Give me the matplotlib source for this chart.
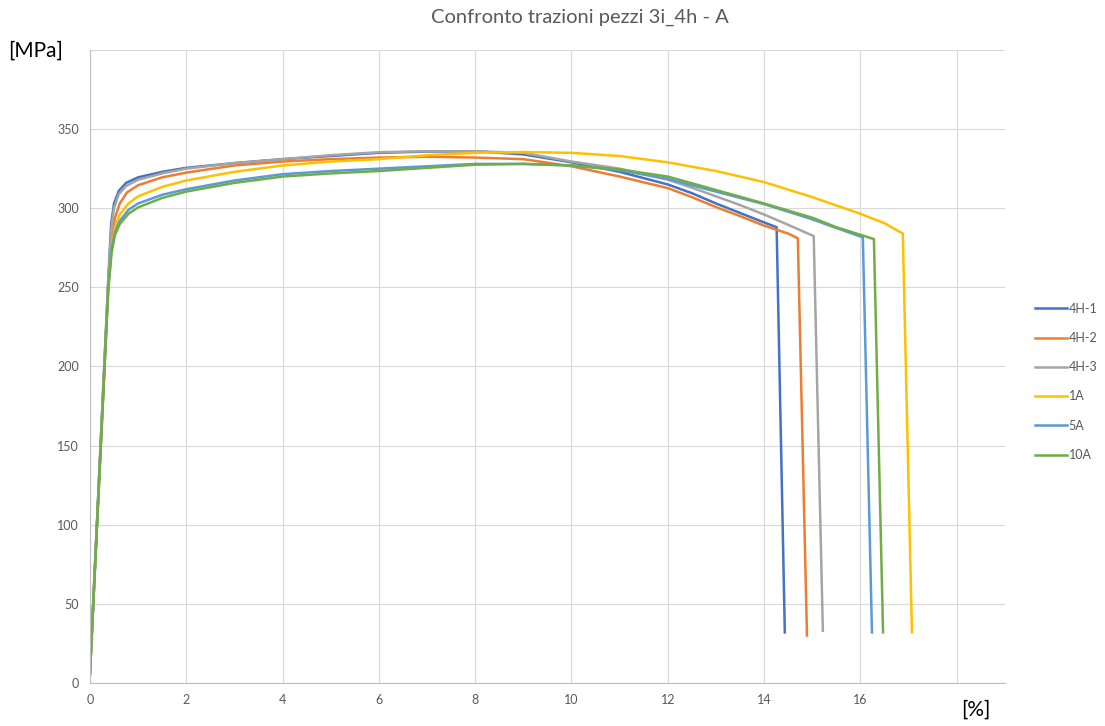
import matplotlib
matplotlib.use("Agg")
from matplotlib import pyplot as plt

plt.rcParams['font.family'] = ['Lato', 'DejaVu Sans']

# curve data: strain [%] vs stress [MPa]
x_4h1 = [0, 0.38, 0.44, 0.5, 0.6, 0.75, 1.0, 1.5, 2, 3, 4, 5, 6, 7, 8, 9, 10, 11, 12, 12.5, 13, 13.5, 14, 14.26, 14.43]
y_4h1 = [6, 255, 290, 303, 311, 316, 319.5, 323, 325.5, 328.5, 331, 333, 335, 335.8, 336, 334, 329, 323, 315, 309.5, 303, 297, 291, 288, 32]

x_4h2 = [0, 0.38, 0.45, 0.52, 0.62, 0.77, 1.0, 1.5, 2, 3, 4, 5, 6, 7, 8, 9, 10, 11, 12, 12.5, 13, 13.5, 14, 14.5, 14.7, 14.89]
y_4h2 = [6, 252, 280, 294, 303, 310, 314.5, 319.5, 322.5, 327, 329.5, 331, 332, 332.5, 332, 331, 326.5, 320, 312.7, 307, 300.7, 295, 289, 284, 281, 30]

x_4h3 = [0, 0.38, 0.44, 0.5, 0.6, 0.75, 1.0, 1.5, 2, 3, 4, 5, 6, 7, 8, 9, 10, 11, 12, 12.5, 13, 13.5, 14, 14.5, 15.03, 15.22]
y_4h3 = [6, 252, 286, 300, 309, 314, 318, 322, 325, 328.5, 331, 333.5, 335.4, 336, 336, 335, 329.5, 325, 318, 313, 307.5, 302, 296, 289.5, 282.4, 33]

x_1a = [0, 0.38, 0.45, 0.52, 0.62, 0.8, 1.0, 1.5, 2, 3, 4, 5, 6, 7, 8, 9, 10, 11, 12, 13, 14, 15, 16, 16.5, 16.88, 17.07]
y_1a = [6, 250, 276, 288, 296, 303, 307.5, 313.5, 317.5, 323, 327, 329.5, 331, 333.5, 335, 335.5, 335, 333, 329, 323.5, 316.5, 307, 296.5, 290.5, 284, 32]

x_5a = [0, 0.38, 0.45, 0.52, 0.62, 0.8, 1.0, 1.5, 2, 3, 4, 5, 6, 7, 8, 9, 10, 11, 12, 13, 14, 15, 15.5, 16.05, 16.24]
y_5a = [6, 250, 275, 285, 292, 299, 303, 308.5, 312, 317.5, 321.5, 323.5, 325, 326.5, 328, 328, 327, 324, 318.5, 310.5, 302.6, 293, 287.5, 281.6, 32]

x_10a = [0, 0.38, 0.45, 0.52, 0.62, 0.8, 1.0, 1.5, 2, 3, 4, 5, 6, 7, 8, 9, 10, 11, 12, 13, 14, 15, 15.5, 16.28, 16.47]
y_10a = [6, 248, 272, 283, 290, 296.5, 300.5, 306.5, 310.5, 316, 320, 322, 323.5, 325.5, 327.5, 328, 327, 324.5, 320, 311.5, 303, 294, 288, 280.5, 32]

labels = ["4H-1", "4H-2", "4H-3", "1A", "5A", "10A"]
colors = ["#4472C4", "#ED7D31", "#A5A5A5", "#FFC000", "#5B9BD5", "#70AD47"]
series = [(x_4h1, y_4h1), (x_4h2, y_4h2), (x_4h3, y_4h3),
          (x_1a, y_1a), (x_5a, y_5a), (x_10a, y_10a)]

x_ticks = [0, 2, 4, 6, 8, 10, 12, 14, 16, 18]
x_ticklabels = ["0", "2", "4", "6", "8", "10", "12", "14", "16", ""]
y_ticks = [0, 50, 100, 150, 200, 250, 300, 350, 400]
y_ticklabels = ["0", "50", "100", "150", "200", "250", "300", "350", ""]

fig = plt.figure(figsize=(11.05, 7.26), dpi=100)
ax = fig.add_axes([0.0814, 0.0592, 0.828, 0.872])

for (xs, ys), lab, col in zip(series, labels, colors):
    ax.plot(xs, ys, color=col, lw=1.8, label=lab, solid_joinstyle='round')

ax.set_xlim(0, 19)
ax.set_ylim(0, 400)
ax.set_xticks(x_ticks)
ax.set_xticklabels(x_ticklabels)
ax.set_yticks(y_ticks)
ax.set_yticklabels(y_ticklabels)
ax.tick_params(length=0, labelsize=9, colors="#595959", pad=8)
ax.grid(True, color="#D9D9D9", lw=0.8)
ax.set_axisbelow(True)
for s in ["top", "right"]:
    ax.spines[s].set_visible(False)
for s in ["left", "bottom"]:
    ax.spines[s].set_color("#BFBFBF")
    ax.spines[s].set_linewidth(0.8)

fig.text(0.525, 0.976, "Confronto trazioni pezzi 3i_4h - A", ha="center", va="center",
         fontsize=14.5, color="#595959")
fig.text(0.007, 0.930, "[MPa]", ha="left", va="center", fontsize=15, color="black")
fig.text(0.870, 0.022, "[%]", ha="left", va="center", fontsize=15, color="black")

leg = fig.legend(loc="upper left", bbox_to_anchor=(0.932, 0.590), frameon=False,
                 fontsize=9, handlelength=2.6, handletextpad=0.1, labelspacing=1.38,
                 borderaxespad=0)
for t in leg.get_texts():
    t.set_color("#595959")

fig.savefig("out.png", dpi=100)
